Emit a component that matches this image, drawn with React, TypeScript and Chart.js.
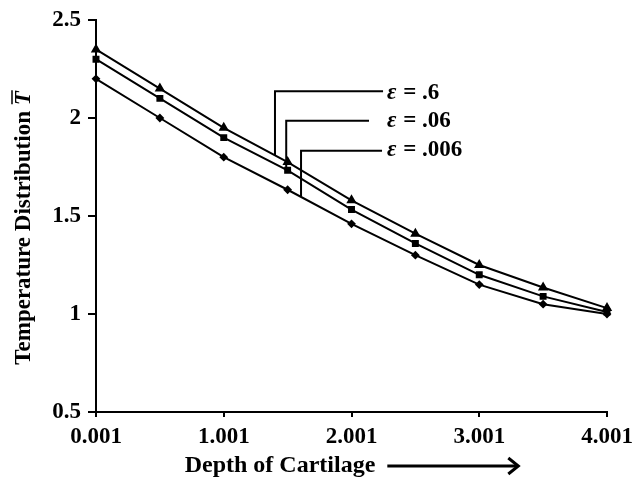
import React, { useEffect, useRef } from "react";
import { Chart, registerables } from "chart.js";

Chart.register(...registerables);

const X_VALUES = [0.001, 0.501, 1.001, 1.501, 2.001, 2.501, 3.001, 3.501, 4.001];
const EPS_A = [2.35, 2.15, 1.95, 1.775, 1.58, 1.41, 1.25, 1.135, 1.03];
const EPS_B = [2.3, 2.1, 1.9, 1.733, 1.533, 1.36, 1.2, 1.09, 1.01];
const EPS_C = [2.2, 2.0, 1.8, 1.634, 1.46, 1.3, 1.15, 1.05, 1.0];
const SERIES_LABELS = [".6", ".06", ".006"];
const X_TICKS = [0.001, 1.001, 2.001, 3.001, 4.001];
const Y_TICKS = [0.5, 1, 1.5, 2, 2.5];
const X_TITLE = "Depth of Cartilage";
const Y_TITLE = "Temperature Distribution ";

const FONT = "'Liberation Serif', 'Times New Roman', serif";

// callouts in data units: [vertical x, bottom y, top y, horizontal end x, label x, label y]
const CALLOUTS = [
  [1.402, 1.81, 2.137, 2.248, 2.279, 2.128],
  [1.49, 1.744, 1.986, 2.138, 2.279, 1.984],
  [1.606, 1.601, 1.833, 2.24, 2.279, 1.836],
];

const overlayPlugin = {
  id: "overlay",
  afterDraw(chart: any) {
    const ctx = chart.ctx as CanvasRenderingContext2D;
    const xs = chart.scales.x;
    const ys = chart.scales.y;
    const area = chart.chartArea;
    ctx.save();
    ctx.strokeStyle = "#000";
    ctx.fillStyle = "#000";
    ctx.lineWidth = 2;
    // callouts
    CALLOUTS.forEach((c, i) => {
      const vx = xs.getPixelForValue(c[0]);
      const by = ys.getPixelForValue(c[1]);
      const ty = ys.getPixelForValue(c[2]);
      const hx = xs.getPixelForValue(c[3]);
      ctx.beginPath();
      ctx.moveTo(vx, by);
      ctx.lineTo(vx, ty);
      ctx.lineTo(hx, ty);
      ctx.stroke();
      const lx = xs.getPixelForValue(c[4]);
      const ly = ys.getPixelForValue(c[5]);
      ctx.textBaseline = "middle";
      ctx.textAlign = "left";
      ctx.font = `italic bold 23px ${FONT}`;
      ctx.fillText("\u03b5", lx, ly);
      const w = ctx.measureText("\u03b5").width;
      ctx.font = `bold 23px ${FONT}`;
      ctx.fillText(" = " + SERIES_LABELS[i], lx + w + 1, ly);
    });
    // x title with arrow
    ctx.font = `bold 24px ${FONT}`;
    const tw = ctx.measureText(X_TITLE).width;
    const gap = 12;
    const arrowLen = 131;
    const total = tw + gap + arrowLen;
    const cx = (area.left + area.right) / 2;
    const sx = cx - total / 2;
    const ty = 466;
    ctx.textAlign = "left";
    ctx.textBaseline = "middle";
    ctx.fillText(X_TITLE, sx, ty);
    const ax0 = sx + tw + gap;
    const ax1 = ax0 + arrowLen;
    ctx.lineWidth = 3;
    ctx.beginPath();
    ctx.moveTo(ax0, ty);
    ctx.lineTo(ax1 - 2, ty);
    ctx.stroke();
    ctx.beginPath();
    ctx.moveTo(ax1 - 10, ty - 8);
    ctx.lineTo(ax1, ty);
    ctx.lineTo(ax1 - 10, ty + 8);
    ctx.stroke();
    // y title
    ctx.save();
    const cy = (area.top + area.bottom) / 2 + 12;
    ctx.translate(24, cy);
    ctx.rotate(-Math.PI / 2);
    ctx.font = `bold 23px ${FONT}`;
    const w1 = ctx.measureText(Y_TITLE).width;
    ctx.font = `italic bold 23px ${FONT}`;
    const w2 = ctx.measureText("T").width;
    const start = -(w1 + w2) / 2;
    ctx.textAlign = "left";
    ctx.textBaseline = "middle";
    ctx.font = `bold 23px ${FONT}`;
    ctx.fillText(Y_TITLE, start, 0);
    ctx.font = `italic bold 23px ${FONT}`;
    ctx.fillText("T", start + w1, 0);
    ctx.lineWidth = 1.5;
    ctx.beginPath();
    ctx.moveTo(start + w1 + 1, -12);
    ctx.lineTo(start + w1 + w2 + 1, -12);
    ctx.stroke();
    ctx.restore();
    ctx.restore();
  },
};

function makeData(vals: number[]) {
  return X_VALUES.map((x, i) => ({ x, y: vals[i] }));
}

export default function App() {
  const ref = useRef<HTMLCanvasElement>(null);
  useEffect(() => {
    document.body.style.margin = "0";
    const canvas = ref.current;
    if (!canvas) return;
    const common = {
      borderColor: "#000",
      backgroundColor: "#000",
      pointBorderColor: "#000",
      pointBackgroundColor: "#000",
      borderWidth: 2,
      clip: false as any,
      tension: 0,
    };
    const chart = new Chart(canvas, {
      type: "line",
      data: {
        datasets: [
          { ...common, label: "ε = " + SERIES_LABELS[0], data: makeData(EPS_A), pointStyle: "triangle", pointRadius: 4 },
          { ...common, label: "ε = " + SERIES_LABELS[1], data: makeData(EPS_B), pointStyle: "rect", pointRadius: 3.5 },
          { ...common, label: "ε = " + SERIES_LABELS[2], data: makeData(EPS_C), pointStyle: "rectRot", pointRadius: 3 },
        ],
      },
      options: {
        animation: false,
        responsive: true,
        maintainAspectRatio: false,
        layout: { padding: { left: 0, right: 25, top: 20, bottom: 0 } },
        plugins: { legend: { display: false }, tooltip: { enabled: false } },
        scales: {
          x: {
            type: "linear",
            min: X_TICKS[0],
            max: X_TICKS[X_TICKS.length - 1],
            afterBuildTicks: (s: any) => {
              s.ticks = X_TICKS.map((v) => ({ value: v }));
            },
            afterFit: (s: any) => {
              s.height = 69;
              s.paddingLeft = 0;
              s.paddingRight = 0;
            },
            ticks: {
              color: "#000",
              padding: 6,
              maxRotation: 0,
              font: { family: FONT, size: 23, weight: "bold" },
              callback: (v: any) => Number(v).toFixed(3),
            },
            grid: { drawOnChartArea: false, drawTicks: true, tickLength: 5, color: "#000", lineWidth: 2 },
            border: { display: true, color: "#000", width: 2 },
          },
          y: {
            type: "linear",
            min: Y_TICKS[0],
            max: Y_TICKS[Y_TICKS.length - 1],
            afterBuildTicks: (s: any) => {
              s.ticks = Y_TICKS.map((v) => ({ value: v }));
            },
            afterFit: (s: any) => {
              s.width = 96;
              s.paddingTop = 0;
              s.paddingBottom = 0;
            },
            ticks: {
              color: "#000",
              padding: 7,
              font: { family: FONT, size: 23, weight: "bold" },
              callback: (v: any) => String(v),
            },
            grid: { drawOnChartArea: false, drawTicks: true, tickLength: 8, color: "#000", lineWidth: 2 },
            border: { display: true, color: "#000", width: 2 },
          },
        },
      },
      plugins: [overlayPlugin],
    });
    return () => chart.destroy();
  }, []);
  return (
    <div style={{ width: 632, height: 481, position: "relative" }}>
      <canvas ref={ref} />
    </div>
  );
}
